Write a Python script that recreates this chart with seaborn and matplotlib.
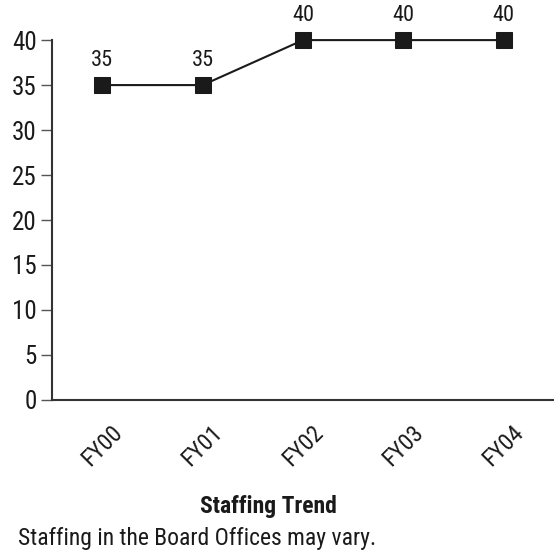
import matplotlib
matplotlib.use("Agg")
import matplotlib.pyplot as plt
from matplotlib import font_manager
from matplotlib.transforms import ScaledTranslation
import seaborn as sns
import pandas as pd

years = ["FY00", "FY01", "FY02", "FY03", "FY04"]
staff = [35, 35, 40, 40, 40]
y_ticks = [0, 5, 10, 15, 20, 25, 30, 35, 40]
title = "Staffing Trend"
subtitle = "Staffing in the Board Offices may vary."

df = pd.DataFrame({"year": years, "staff": staff})

sns.set_style("white")
available = {f.name for f in font_manager.fontManager.ttflist}
family = "Roboto"
for cand in ["Roboto Condensed", "Liberation Sans Narrow", "Open Sans Condensed"]:
    if cand in available:
        family = cand
        break
plt.rcParams["font.family"] = [family, "DejaVu Sans"]

ink = "#1a1a1a"
fig = plt.figure(figsize=(5.54, 5.57), dpi=100)
ax = fig.add_axes([0.094, 0.282, 0.906, 0.646])

sns.lineplot(data=df, x="year", y="staff", ax=ax, color=ink, linewidth=1.5,
             marker="s", markersize=11, markeredgecolor=ink, clip_on=False)

for i, v in enumerate(staff):
    ax.annotate(str(v), (i, v), xytext=(0, 10), textcoords="offset points",
                ha="center", va="bottom", fontsize=16, color=ink)

ax.set_xlim(-0.5, len(years) - 0.5)
ax.set_ylim(0, 40)
ax.set_yticks(y_ticks)
ax.set_yticklabels([str(t) for t in y_ticks], fontsize=18, color=ink)
ax.set_xticks(range(len(years)))
ax.set_xticklabels(years, rotation=45, ha="center", fontsize=17, color=ink)
# nudge the slanted category labels slightly left of their slots
shift = ScaledTranslation(-5 / 100, 0, fig.dpi_scale_trans)
for lbl in ax.get_xticklabels():
    lbl.set_transform(lbl.get_transform() + shift)
ax.set_xticks([i - 0.5 for i in range(len(years) + 1)], minor=True)
ax.tick_params(axis="x", which="major", length=0, pad=15)
ax.tick_params(axis="x", which="minor", length=8, width=1, color="#555555")
ax.tick_params(axis="y", length=8, width=1, color="#555555", pad=3, left=True)
ax.set_xlabel("")
ax.set_ylabel("")

for side in ["top", "right"]:
    ax.spines[side].set_visible(False)
for side in ["left", "bottom"]:
    ax.spines[side].set_color("#333333")
    ax.spines[side].set_linewidth(1.5)

fig.text(0.484, 0.09, title, ha="center", va="center", fontsize=17,
         fontweight="bold", color=ink)
fig.text(0.032, 0.034, subtitle, ha="left", va="center", fontsize=17, color=ink)

fig.savefig("out.png", dpi=100)
